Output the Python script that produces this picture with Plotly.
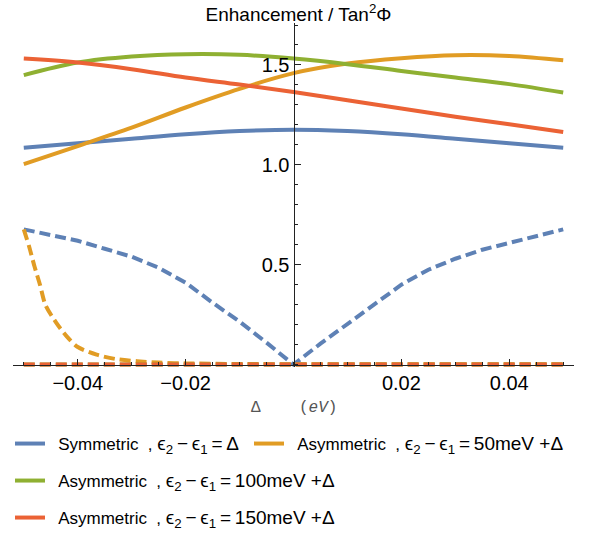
import plotly.graph_objects as go

# ---------------- data ----------------
x_solid = [-0.05, -0.04, -0.03, -0.02, -0.01, 0.0, 0.01, 0.02, 0.03, 0.04, 0.05]
sym_solid = [1.086, 1.108, 1.131, 1.153, 1.169, 1.176, 1.169, 1.153, 1.131, 1.108, 1.086]
asym50_solid = [1.004, 1.094, 1.186, 1.287, 1.380, 1.459, 1.507, 1.534, 1.549, 1.545, 1.523]
asym100_solid = [1.449, 1.512, 1.542, 1.554, 1.551, 1.532, 1.504, 1.470, 1.437, 1.404, 1.362]
asym150_solid = [1.532, 1.512, 1.479, 1.437, 1.402, 1.365, 1.323, 1.282, 1.241, 1.203, 1.164]

x_dash = [-0.05, -0.045, -0.04, -0.035, -0.03, -0.025, -0.02, -0.015, -0.01, -0.005, 0.0,
          0.005, 0.01, 0.015, 0.02, 0.025, 0.03, 0.035, 0.04, 0.045, 0.05]
sym_dash = [0.677, 0.650, 0.620, 0.580, 0.540, 0.485, 0.410, 0.310, 0.215, 0.110, 0.0,
            0.105, 0.205, 0.305, 0.400, 0.475, 0.530, 0.575, 0.610, 0.645, 0.677]
asym100_dash = [0.001, 0.001, 0.001, 0.001, 0.001, 0.001, 0.001, 0.001, 0.001, 0.001, 0.0,
                0.001, 0.001, 0.001, 0.001, 0.001, 0.001, 0.001, 0.001, 0.001, 0.001]
asym150_dash = [0.001, 0.001, 0.001, 0.001, 0.001, 0.001, 0.001, 0.001, 0.001, 0.001, 0.0,
                0.001, 0.001, 0.001, 0.001, 0.001, 0.001, 0.001, 0.001, 0.001, 0.001]

x_dash50 = [-0.05, -0.049, -0.048, -0.047, -0.046, -0.044, -0.042, -0.04, -0.0365, -0.033,
            -0.029, -0.025, -0.02, -0.01, 0.0, 0.01, 0.02, 0.03, 0.04, 0.05]
asym50_dash = [0.677, 0.590, 0.490, 0.400, 0.300, 0.210, 0.140, 0.088, 0.050, 0.028,
               0.017, 0.010, 0.006, 0.003, 0.002, 0.002, 0.002, 0.002, 0.002, 0.002]

NB = "\u00a0"
TS = "\u2009"
MATH = ('<span style="font-size:19px">\u03f5<sub>2</sub>' + TS + "\u2212" + TS +
        "\u03f5<sub>1</sub>" + TS + "=" + TS + "{rhs}</span>")
names = [
    NB + TS + "Symmetric" + NB + NB + "," + NB + MATH.format(rhs="\u0394"),
    NB + TS + "Asymmetric" + NB + NB + "," + NB + MATH.format(rhs="50meV" + NB + "+\u0394"),
    NB + TS + "Asymmetric" + NB + NB + "," + NB + MATH.format(rhs="100meV" + NB + "+\u0394"),
    NB + TS + "Asymmetric" + NB + NB + "," + NB + MATH.format(rhs="150meV" + NB + "+\u0394"),
]
colors = ["#5E81B5", "#E19C24", "#8FB032", "#EB6235"]

x_tickvals = [-0.04, -0.02, 0.02, 0.04]
x_ticktext = ["\u22120.04", "\u22120.02", "0.02", "0.04"]
y_tickvals = [0.5, 1.0, 1.5]
y_ticktext = ["0.5", "1.0", "1.5"]

# ---------------- figure ----------------
W, H = 592, 536
x_range = [-0.052, 0.052]
y_range = [-0.012, 1.71]
ml, mr, mt, mb = 13, 18, 23, 168.6

fig = go.Figure()
solids = [sym_solid, asym50_solid, asym100_solid, asym150_solid]
legends = ["legend", "legend2", "legend3", "legend4"]
for i, ys in enumerate(solids):
    fig.add_trace(go.Scatter(
        x=x_solid, y=ys, mode="lines", name=names[i],
        line=dict(color=colors[i], width=4, shape="spline", smoothing=1.0),
        legend=legends[i], showlegend=True, hoverinfo="skip"))

dashed = [(x_dash, sym_dash, "linear"), (x_dash50, asym50_dash, "spline"),
          (x_dash, asym100_dash, "linear"), (x_dash, asym150_dash, "linear")]
for i, (xs, ys, shp) in enumerate(dashed):
    fig.add_trace(go.Scatter(
        x=xs, y=ys, mode="lines", showlegend=False, hoverinfo="skip",
        line=dict(color=colors[i], width=4, dash="11px,5px", shape=shp,
                  smoothing=0.8 if shp == "spline" else None)))

axis_color = "#222222"
yaxis_pos = (0 - x_range[0]) / (x_range[1] - x_range[0])
xaxis_pos = (0 - y_range[0]) / (y_range[1] - y_range[0])

fig.update_layout(
    width=W, height=H,
    margin=dict(l=ml, r=mr, t=mt, b=mb, pad=0),
    paper_bgcolor="white", plot_bgcolor="white",
    font=dict(family="Liberation Sans, Arial, sans-serif", color="black", size=20),
    title=dict(text="Enhancement / Tan<sup>2</sup>\u03a6", font=dict(size=19, color="black"),
               x=298.5 / W, xanchor="center", xref="container",
               y=1 - 14 / H, yanchor="middle", yref="container"),
    xaxis=dict(range=x_range, anchor="free", position=xaxis_pos,
               showgrid=False, zeroline=False, showline=True, linecolor=axis_color, linewidth=1,
               tickmode="array", tickvals=x_tickvals, ticktext=x_ticktext,
               ticks="inside", ticklen=6, tickwidth=1, tickcolor=axis_color,
               tickfont=dict(size=20, color="black"),
               minor=dict(tickmode="linear", tick0=0, dtick=0.005, ticks="inside",
                          ticklen=3, tickwidth=1, tickcolor=axis_color, showgrid=False)),
    yaxis=dict(range=y_range, anchor="free", position=yaxis_pos,
               showgrid=False, zeroline=False, showline=True, linecolor=axis_color, linewidth=1,
               tickmode="array", tickvals=y_tickvals, ticktext=y_ticktext,
               ticks="inside", ticklen=6, tickwidth=1, tickcolor=axis_color,
               tickfont=dict(size=20, color="black"),
               minor=dict(tickmode="linear", tick0=0, dtick=0.1, ticks="inside",
                          ticklen=3, tickwidth=1, tickcolor=axis_color, showgrid=False)),
)

leg_common = dict(xref="container", yref="container", xanchor="left", yanchor="middle",
                  bgcolor="rgba(0,0,0,0)", borderwidth=0, orientation="h",
                  font=dict(size=17, color="black", family="Liberation Sans, Arial, sans-serif"))
fig.update_layout(
    legend=dict(x=10 / W, y=1 - 444 / H, **leg_common),
    legend2=dict(x=249 / W, y=1 - 444 / H, **leg_common),
    legend3=dict(x=10 / W, y=1 - 481 / H, **leg_common),
    legend4=dict(x=10 / W, y=1 - 518 / H, **leg_common),
)

# x-axis label centred under the origin
plot_h = H - mt - mb
fig.add_annotation(
    text="\u0394\u00a0\u00a0\u00a0\u00a0(<i>eV</i>)", x=0, xref="x",
    y=-(408 - (H - mb)) / plot_h, yref="paper", yanchor="middle", xanchor="center",
    showarrow=False, font=dict(family="Liberation Mono, DejaVu Sans Mono, monospace",
                                size=16, color="#555555"))

fig.write_html("out.html", config={"displayModeBar": False},
               post_script="document.body.style.margin='0';")
